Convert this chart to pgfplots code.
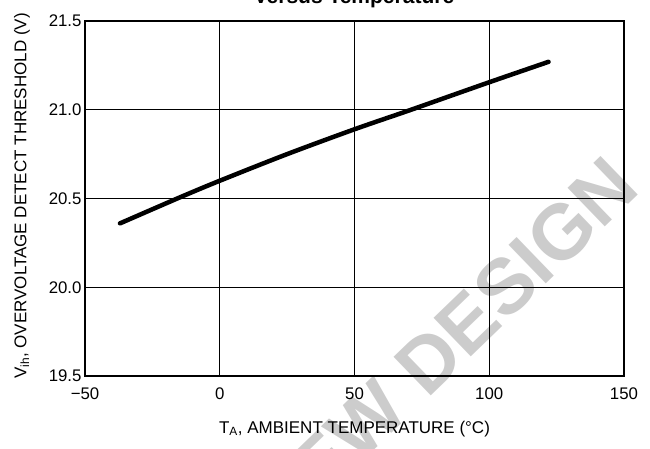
\documentclass[border=0pt]{standalone}
\usepackage{fontspec}
\setmainfont{Liberation Sans}
\usepackage{pgfplots}
\pgfplotsset{compat=1.18}
\begin{document}
\begin{tikzpicture}
\useasboundingbox (0pt,0pt) rectangle (650pt,448pt);
% watermark
\node[rotate=44, anchor=east, text=gray!40, font=\fontsize{78}{80}\selectfont\bfseries, inner sep=0pt] at (624pt,276pt) {NEW DESIGN};
% partially visible title
\node[anchor=base, font=\fontsize{21}{24}\selectfont\bfseries, inner sep=0pt] at (354pt,444pt) {Versus Temperature};
\begin{axis}[
  at={(85pt,72pt)}, anchor=south west,
  scale only axis, width=539pt, height=355pt,
  xmin=-50, xmax=150, ymin=19.5, ymax=21.5,
  xtick={-50,0,50,100,150}, xticklabels={−50,0,50,100,150},
  ytick={19.5,20,20.5,21,21.5}, yticklabels={19.5,20.0,20.5,21.0,21.5},
  major tick length=0pt,
  grid=major, grid style={black, line width=1.1pt},
  axis line style={black, line width=1.5pt},
  ticklabel style={font=\fontsize{16.8}{18}\selectfont},
  xticklabel style={yshift=-8pt},
  xlabel={T\textsubscript{A}, AMBIENT TEMPERATURE (°C)},
  ylabel={V\textsubscript{ih}, OVERVOLTAGE DETECT THRESHOLD (V)},
  label style={font=\fontsize{17}{19}\selectfont},
  xlabel style={at={(axis description cs:0.5,-0.149)}, anchor=center},
  ylabel style={at={(axis description cs:-0.117,0.507)}, anchor=center},
]
\addplot[black, line width=4.5pt, smooth, line cap=round] coordinates {
  (-37,20.36) (-15,20.505) (0,20.60) (25,20.75) (50,20.89) (71,21.00) (100,21.155) (122,21.27)
};
\end{axis}
\end{tikzpicture}
\end{document}
